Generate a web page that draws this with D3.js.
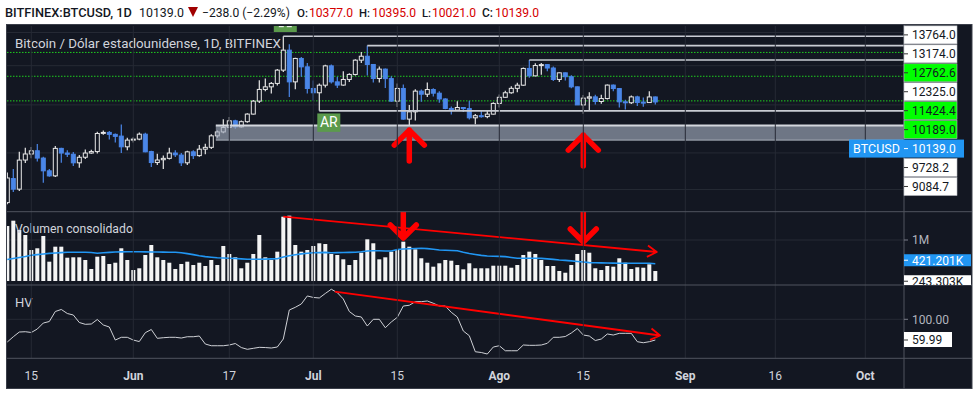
<!DOCTYPE html>
<html>
<head>
<meta charset="utf-8">
<script src="https://cdn.jsdelivr.net/npm/d3@7"></script>
<style>
  body { margin: 0; background: #fff; }
  svg text { font-family: Roboto, "Noto Sans", sans-serif; }
</style>
</head>
<body>
<svg id="chart" width="978" height="395"></svg>
<script>
// ---- data ----
const firstDay = "2019-05-11";
const lastDay = "2019-08-27";

const opens = [6350, 7100, 6760, 7740, 7960, 8080, 7810, 7361, 7190, 8170,
  7995, 7950, 7640, 7840, 7995, 8050, 8760, 8800, 8720, 8650,
  8230, 8490, 8530, 8728, 8050, 7650, 7750, 7800, 7995, 7920,
  7640, 8040, 7900, 8140, 8210, 8660, 8820, 9004, 9287, 9030,
  9250, 9582, 10177, 10745, 10876, 11050, 11754, 12899, 11131, 12410,
  11935, 10795, 10580, 10960, 11990, 11131, 10965, 11256, 11521, 12312,
  12539, 12068, 11308, 11810, 11300, 10177, 10795, 9361, 9684, 10661,
  10510, 10740, 10560, 10280, 9837, 9760, 9880, 9830, 9418, 9510,
  9470, 9580, 10069, 10360, 10580, 10800, 10960, 11847, 11446, 12008,
  12060, 11870, 11256, 11608, 11400, 10876, 9999, 10320, 10380, 10160,
  10300, 10965, 10790, 10144, 10100, 10380, 10130, 10110, 10377];
const highs = [7300, 7420, 8040, 8195, 8220, 8335, 7860, 7420, 8258, 8190,
  8100, 8030, 7920, 8130, 8120, 8830, 8880, 8860, 8760, 9131,
  8580, 8600, 8800, 8790, 8080, 7970, 7900, 8190, 8100, 8000,
  8080, 8100, 8300, 8350, 8720, 8880, 9350, 9450, 9330, 9300,
  9620, 10230, 11220, 11300, 11120, 11820, 13764, 13263, 12450, 12500,
  12150, 11200, 11050, 12050, 12070, 11400, 11700, 11590, 12370, 12785,
  13174, 12100, 11950, 11850, 11420, 11050, 11000, 9990, 10760, 10740,
  11100, 10800, 10660, 10310, 9930, 10170, 9890, 10190, 9590, 9720,
  9730, 10120, 10500, 10680, 10900, 11080, 11900, 12325, 12140, 12150,
  12080, 11950, 11630, 11620, 11480, 10890, 10470, 10600, 10480, 10480,
  10990, 11000, 10810, 10240, 10450, 10440, 10350, 10650, 10395];
const lows = [6300, 6670, 6700, 7635, 7800, 7685, 6965, 7160, 7150, 7640,
  7850, 7530, 7470, 7780, 7970, 7980, 8700, 8510, 8400, 8000,
  8100, 8400, 8480, 8020, 7490, 7560, 7420, 7760, 7850, 7530,
  7560, 7780, 7860, 7950, 8150, 8580, 8770, 8980, 8950, 9000,
  9200, 9560, 10090, 10650, 10540, 10950, 11650, 10380, 10750, 11400,
  10547, 10190, 9728.2, 10840, 11050, 10820, 10930, 11130, 11470, 12150,
  11470, 11100, 11100, 10820, 10150, 9900, 9330, 9084.7, 9300, 10150,
  10380, 10400, 10100, 9800, 9560, 9730, 9680, 9340, 9140, 9420,
  9400, 9560, 9880, 10340, 10530, 10600, 10930, 11350, 11420, 11500,
  11700, 11180, 11120, 11200, 10800, 9990, 9592, 9760, 10020, 10050,
  10250, 10660, 9880, 9790, 10040, 9950, 9920, 10100, 10021];
const closes = [7120, 6760, 7737, 7960, 8078, 7810, 7361, 7190, 8170, 7995,
  7950, 7640, 7840, 7995, 8050, 8756, 8800, 8720, 8640, 8230,
  8490, 8530, 8728, 8040, 7650, 7740, 7800, 7995, 7930, 7640,
  8040, 7900, 8140, 8210, 8660, 8820, 9004, 9287, 9030, 9250,
  9582, 10177, 10745, 10876, 11050, 11754, 12899, 11131, 12410, 11935,
  10795, 10580, 10960, 11990, 11131, 10965, 11256, 11521, 12312, 12539,
  12068, 11308, 11810, 11300, 10177, 10795, 9361, 9684, 10661, 10510,
  10740, 10560, 10280, 9837, 9760, 9880, 9830, 9418, 9510, 9470,
  9580, 10069, 10360, 10580, 10800, 10960, 11847, 11446, 12008, 12060,
  11870, 11256, 11608, 11400, 10876, 9999, 10320, 10380, 10160, 10300,
  10965, 10790, 10144, 10100, 10380, 10110, 10110, 10377, 10139];

// volume in thousands
const volumes = [1341, 1471, 1244, 1122, 756, 798, 1098, 471, 837, 837,
  568, 578, 578, 512, 293, 593, 610, 415, 446, 798,
  512, 268, 310, 634, 878, 578, 512, 446, 293, 415,
  471, 390, 446, 366, 512, 390, 854, 659, 578, 310,
  446, 659, 1122, 578, 512, 715, 1568, 1593, 878, 715,
  756, 854, 920, 902, 659, 634, 529, 390, 512, 690,
  1017, 920, 529, 578, 715, 756, 959, 837, 773, 554,
  446, 349, 432, 512, 495, 390, 285, 432, 310, 310,
  310, 373, 373, 373, 324, 390, 634, 715, 659, 512,
  366, 366, 244, 202, 390, 659, 756, 690, 310, 268,
  366, 349, 554, 446, 293, 334, 324, 407, 243.303];
const volumeMA = [524, 549, 573, 598, 627, 644, 659, 673, 683, 693,
  700, 700, 700, 700, 695, 678, 688, 698, 707, 710,
  712, 715, 712, 710, 707, 707, 705, 702, 700, 690,
  668, 644, 615, 595, 580, 568, 561, 554, 549, 539,
  529, 529, 529, 534, 539, 544, 585, 615, 639, 661,
  678, 688, 693, 698, 690, 693, 695, 698, 700, 712,
  732, 739, 737, 732, 732, 768, 780, 788, 793, 798,
  790, 773, 756, 749, 744, 739, 702, 671, 646, 624,
  610, 605, 600, 595, 573, 554, 554, 554, 554, 551,
  539, 527, 512, 502, 490, 476, 463, 449, 444, 441,
  439, 437, 434, 432, 432, 432, 432, 432, 421.201];
const hv = [56.1, 66.3, 75.4, 76.0, 74.5, 81.2, 92.8, 95.7, 115.1, 119.0,
  111.2, 108.3, 93.8, 90.3, 90.9, 99.6, 89.0, 85.1, 59.9, 65.2,
  65.2, 59.9, 57.0, 74.1, 80.3, 63.2, 64.4, 65.2, 65.2, 63.8,
  66.3, 66.3, 67.7, 52.2, 48.9, 48.9, 48.9, 50.3, 53.2, 45.4,
  42.0, 43.9, 45.8, 45.4, 44.5, 46.4, 61.9, 118.0, 123.2, 129.6,
  145.1, 142.2, 141.2, 149.9, 158.1, 151.5, 139.3, 115.1, 106.4, 104.5,
  87.0, 100.0, 100.0, 83.7, 94.8, 103.9, 125.7, 127.1, 134.1, 134.1,
  135.4, 131.0, 125.7, 125.7, 113.5, 104.5, 77.4, 68.3, 37.3, 35.8,
  32.9, 46.4, 48.9, 39.2, 39.2, 39.2, 50.3, 49.7, 49.7, 50.3,
  53.6, 65.2, 65.2, 66.7, 73.5, 82.2, 69.6, 67.7, 59.0, 61.9,
  71.6, 69.6, 72.9, 72.9, 72.9, 56.7, 54.7, 56.7, 59.99];

const timeTicks = ["2019-05-15", "2019-06-01", "2019-06-17", "2019-07-01", "2019-07-15",
  "2019-08-01", "2019-08-15", "2019-09-01", "2019-09-16", "2019-10-01"];
const timeLabels = ["15", "Jun", "17", "Jul", "15", "Ago", "15", "Sep", "16", "Oct"];

const priceGrid = [14000, 12000, 10000, 8000, 6750];
const greenLevels = [12762.6, 11424.4, 10189.0];
const rayPrices = [13764.0, 13174.0, 12325.0, 9728.2];
const rayStarts = ["2019-06-26", "2019-07-10", "2019-08-06", "2019-07-02"];
const zoneTop = 9084.7, zoneBottom = 8490, zoneStart = "2019-06-15";

const priceLabels = [13764.0, 13174.0, 12762.6, 12325.0, 11424.4, 10189.0, 10139.0, 9728.2, 9084.7];
const priceLabelKinds = ["ray", "ray", "level", "ray", "level", "level", "last", "ray", "ray"];
const volLabels = [421.201, 243.303];
const hvLast = 59.99;

const volTrendDates = ["2019-06-26T00:00:00Z", "2019-08-27T06:00:00Z"];
const volTrendValues = [1568, 707];
const hvTrendDates = ["2019-07-04T14:00:00Z", "2019-08-27T19:00:00Z"];
const hvTrendValues = [153.4, 68.7];
const upArrowDates = ["2019-07-17", "2019-08-15"];
const upArrowTips = [8894, 8690];
const downArrowDates = ["2019-07-16", "2019-08-15"];
const downArrowTips = [1049, 951];

// ---- layout ----
const W = 978, H = 395;
const left = 7, right = 904, axisEnd = 972;
const pricePane = [26, 211.7], volPane = [211.7, 285], hvPane = [285, 358.3], bottom = 388.5;
const bg = "#131722", gridC = "#262a35", sepC = "#50545f", textC = "#d1d4dc";
const upC = "#e8e8e8", downC = "#4a86e8", red = "#ff0000";

const parse = d3.utcParse("%Y-%m-%d");
const dates = d3.utcDays(parse(firstDay), d3.utcDay.offset(parse(lastDay), 1));
const bars = dates.map((d, i) => ({
  date: d, o: opens[i], h: highs[i], l: lows[i], c: closes[i],
  v: volumes[i], ma: volumeMA[i], hv: hv[i]
}));

const x = d3.scaleUtc().domain([parse("2019-05-15"), parse("2019-10-01")]).range([31.3, 865.3]);
const y = d3.scaleLog().domain([6087, 14431]).range([pricePane[1], pricePane[0]]);
const yVol = d3.scaleLinear().domain([0, 1000]).range([281, 240]);
const yHv = d3.scaleLinear().domain([59.99, 100]).range([340, 319.3]);

const svg = d3.select("#chart");
svg.append("rect").attr("width", W).attr("height", H).attr("fill", "#fff");
svg.append("rect").attr("x", 6.5).attr("y", 24.5).attr("width", axisEnd - 6.5).attr("height", bottom - 24.5)
  .attr("fill", bg).attr("stroke", "#3a3e49");

// text fitted to a width by picking the font size (no glyph squeezing)
function fitText(sel, width, size) {
  sel.attr("font-size", size);
  const len = sel.node().getComputedTextLength();
  if (len > 0) sel.attr("font-size", (size * width / len).toFixed(2));
  return sel;
}

const defs = svg.append("defs");
function clip(id, y0, y1, x1) {
  defs.append("clipPath").attr("id", id).append("rect")
    .attr("x", left).attr("y", y0).attr("width", (x1 || right) - left).attr("height", y1 - y0);
  return "url(#" + id + ")";
}
const gPrice = svg.append("g").attr("clip-path", clip("cp", pricePane[0], pricePane[1]));
const gVol = svg.append("g").attr("clip-path", clip("cv", volPane[0], volPane[1]));
const gHv = svg.append("g").attr("clip-path", clip("ch", hvPane[0], hvPane[1]));

// grid
timeTicks.forEach(t => {
  svg.append("line").attr("x1", x(parse(t))).attr("x2", x(parse(t)))
    .attr("y1", pricePane[0]).attr("y2", hvPane[1]).attr("stroke", gridC);
});
gPrice.selectAll("line.hg").data(priceGrid).enter().append("line")
  .attr("x1", left).attr("x2", right).attr("y1", d => y(d)).attr("y2", d => y(d)).attr("stroke", gridC);
gVol.append("line").attr("x1", left).attr("x2", right).attr("y1", yVol(1000)).attr("y2", yVol(1000)).attr("stroke", gridC);
gHv.append("line").attr("x1", left).attr("x2", right).attr("y1", yHv(100)).attr("y2", yHv(100)).attr("stroke", gridC);

// green dotted levels
gPrice.selectAll("line.green").data(greenLevels).enter().append("line")
  .attr("x1", left).attr("x2", right).attr("y1", d => y(d)).attr("y2", d => y(d))
  .attr("stroke", "#1fcf1f").attr("stroke-width", 1).attr("stroke-dasharray", "1.5,1.5");

// label box above the climax candle (mostly hidden behind the header)
gPrice.append("rect").attr("x", x(parse("2019-06-26")) - 9.5).attr("y", 13).attr("width", 23).attr("height", 19)
  .attr("fill", "#5b9a4c");
gPrice.selectAll("rect.dash").data([-4, 4]).enter().append("rect")
  .attr("x", d => x(parse("2019-06-26")) + 2 + d - 2.5).attr("y", 26).attr("width", 5).attr("height", 1.2)
  .attr("fill", "#e8efe6");

// candles
const cw = 4;
const candle = gPrice.selectAll("g.c").data(bars).enter().append("g");
candle.append("line")
  .attr("x1", d => x(d.date)).attr("x2", d => x(d.date))
  .attr("y1", d => y(d.h)).attr("y2", d => y(d.l))
  .attr("stroke", d => d.c >= d.o ? upC : downC).attr("stroke-width", 1.2);
candle.append("rect")
  .attr("x", d => x(d.date) - cw / 2)
  .attr("width", cw)
  .attr("y", d => y(Math.max(d.o, d.c)))
  .attr("height", d => Math.max(1, Math.abs(y(d.o) - y(d.c))))
  .attr("fill", d => d.c >= d.o ? bg : downC)
  .attr("stroke", d => d.c >= d.o ? upC : downC)
  .attr("stroke-width", 1);

// rays from swing points
rayPrices.forEach((p, i) => {
  gPrice.append("line").attr("x1", x(parse(rayStarts[i]))).attr("x2", right)
    .attr("y1", y(p)).attr("y2", y(p)).attr("stroke", "#c9ccd3").attr("stroke-width", 1.6);
});

// support zone
const zx = x(parse(zoneStart)) - 1.5;
gPrice.append("rect").attr("x", zx).attr("y", y(zoneTop)).attr("width", right - zx)
  .attr("height", y(zoneBottom) - y(zoneTop)).attr("fill", "rgba(159,169,188,0.65)");
gPrice.append("line").attr("x1", zx).attr("x2", right).attr("y1", y(zoneTop)).attr("y2", y(zoneTop))
  .attr("stroke", "#d4d7de").attr("stroke-width", 2);
gPrice.append("line").attr("x1", zx).attr("x2", right).attr("y1", y(zoneBottom)).attr("y2", y(zoneBottom))
  .attr("stroke", "#a9afba").attr("stroke-width", 1);

// AR label
const arX = x(parse("2019-07-02")) - 2;
gPrice.append("rect").attr("x", arX).attr("y", y(9728.2) + 2.6).attr("width", 23).attr("height", 18.4).attr("fill", "#5b9a4c");
gPrice.append("text").attr("x", arX + 11.5).attr("y", y(9728.2) + 16.6).attr("text-anchor", "middle")
  .attr("fill", "#fff").attr("font-size", 14).text("AR");

// up arrows
upArrowDates.forEach((d, i) => {
  const ax = x(parse(d)), ay = y(upArrowTips[i]);
  gPrice.append("path")
    .attr("d", `M${ax - 15},${ay + 15}L${ax},${ay}L${ax + 15},${ay + 15}M${ax},${ay}L${ax},${ay + 31}`)
    .attr("fill", "none").attr("stroke", red).attr("stroke-width", 5.5)
    .attr("stroke-linecap", "round").attr("stroke-linejoin", "round");
});

fitText(gPrice.append("text").attr("x", 15).attr("y", 48).attr("fill", textC)
  .text("Bitcoin / Dólar estadounidense, 1D, BITFINEX"), 266, 13);

// volume
gVol.selectAll("rect.v").data(bars).enter().append("rect")
  .attr("x", d => x(d.date) - 2).attr("width", 4)
  .attr("y", d => yVol(d.v)).attr("height", d => yVol(0) - yVol(d.v))
  .attr("fill", "#f4f4f4");
gVol.append("path").datum(bars)
  .attr("d", d3.line().x(d => x(d.date)).y(d => yVol(d.ma)))
  .attr("fill", "none").attr("stroke", "#2196f3").attr("stroke-width", 1.6);
fitText(gVol.append("text").attr("x", 15).attr("y", 233).attr("fill", textC).text("Volumen consolidado"), 118, 13);

function trend(g, ds, vs, sy) {
  const x0 = x(d3.isoParse(ds[0])), y0 = sy(vs[0]), x1 = x(d3.isoParse(ds[1])), y1 = sy(vs[1]);
  const a = Math.atan2(y1 - y0, x1 - x0), L = 11, s = 0.55;
  g.append("path")
    .attr("d", `M${x0},${y0}L${x1},${y1}M${x1 - L * Math.cos(a - s)},${y1 - L * Math.sin(a - s)}L${x1},${y1}L${x1 - L * Math.cos(a + s)},${y1 - L * Math.sin(a + s)}`)
    .attr("fill", "none").attr("stroke", red).attr("stroke-width", 1.8).attr("stroke-linejoin", "round");
}
trend(gVol, volTrendDates, volTrendValues, yVol);

downArrowDates.forEach((d, i) => {
  const ax = x(parse(d)), ay = yVol(downArrowTips[i]);
  gVol.append("path")
    .attr("d", `M${ax - 13},${ay - 13}L${ax},${ay}L${ax + 13},${ay - 13}M${ax},${ay}L${ax},${volPane[0] - 5}`)
    .attr("fill", "none").attr("stroke", red).attr("stroke-width", 5.5)
    .attr("stroke-linecap", "round").attr("stroke-linejoin", "round");
});

// HV
gHv.append("path").datum(bars)
  .attr("d", d3.line().x(d => x(d.date)).y(d => yHv(d.hv)))
  .attr("fill", "none").attr("stroke", "#cfd1d6").attr("stroke-width", 1);
trend(gHv, hvTrendDates, hvTrendValues, yHv);
gHv.append("text").attr("x", 15).attr("y", 307).attr("fill", textC).attr("font-size", 13).text("HV");

// separators and right axis line
[volPane[0], hvPane[0], hvPane[1]].forEach(s => {
  svg.append("line").attr("x1", left).attr("x2", axisEnd).attr("y1", s).attr("y2", s).attr("stroke", sepC);
});
svg.append("line").attr("x1", right).attr("x2", right).attr("y1", 25).attr("y2", bottom).attr("stroke", sepC);

// time axis
timeTicks.forEach((t, i) => {
  const month = isNaN(+timeLabels[i]);
  svg.append("text").attr("x", x(parse(t))).attr("y", 379.5).attr("text-anchor", "middle")
    .attr("fill", textC).attr("font-size", 12).attr("font-weight", month ? 700 : 400)
    .text(timeLabels[i]);
});

// price axis labels (stacked to avoid overlap)
function stack(ideal, gap, shift) {
  const out = [];
  ideal.forEach((v, i) => out.push(i ? Math.max(v, out[i - 1] + gap) : v));
  return out.map(v => v + shift);
}
const fmt = d3.format(".1f");
const py = stack(priceLabels.map(y), 18.95, -1.3);
const kindFill = {ray: "#ffffff", level: "#00ff00", last: "#2196f3"};
priceLabels.forEach((p, i) => {
  const k = priceLabelKinds[i], cy = py[i];
  svg.append("rect").attr("x", right).attr("y", cy - 9).attr("width", k === "last" ? 60 : 53).attr("height", 18)
    .attr("fill", kindFill[k]).attr("stroke", k === "last" ? "none" : "#b9bcc3").attr("stroke-width", 0.6);
  svg.append("line").attr("x1", right).attr("x2", right + 4).attr("y1", cy).attr("y2", cy)
    .attr("stroke", k === "last" ? "#fff" : "#333");
  svg.append("text").attr("x", right + 8).attr("y", cy + 4.3).attr("font-size", 12)
    .attr("fill", k === "last" ? "#fff" : "#131722").text(fmt(p));
  if (k === "last") {
    svg.append("rect").attr("x", 849).attr("y", cy - 9).attr("width", right - 849).attr("height", 18).attr("fill", "#2196f3");
    svg.append("text").attr("x", 876.5).attr("y", cy + 4.5).attr("text-anchor", "middle").attr("font-size", 12.5)
      .attr("fill", "#fff").text("BTCUSD");
  }
});

// volume axis
svg.append("line").attr("x1", right).attr("x2", right + 4).attr("y1", yVol(1000)).attr("y2", yVol(1000)).attr("stroke", "#787b86");
svg.append("text").attr("x", right + 8).attr("y", yVol(1000) + 4.3).attr("font-size", 12).attr("fill", "#b2b5be").text("1M");
const gVolAxis = svg.append("g").attr("clip-path", clip("cva", volPane[0], volPane[1], axisEnd));
const vy = stack(volLabels.map(yVol), 21, -3.5);
volLabels.forEach((v, i) => {
  const blue = i === 0;
  gVolAxis.append("rect").attr("x", right).attr("y", vy[i] - 6).attr("width", 67).attr("height", 12)
    .attr("fill", blue ? "#2196f3" : "#fff");
  gVolAxis.append("line").attr("x1", right).attr("x2", right + 4).attr("y1", vy[i]).attr("y2", vy[i])
    .attr("stroke", blue ? "#fff" : "#333");
  gVolAxis.append("text").attr("x", right + 8).attr("y", vy[i] + 4.3).attr("font-size", 12)
    .attr("fill", blue ? "#fff" : "#131722").text(d3.format(".3f")(v) + "K");
});

// HV axis
svg.append("line").attr("x1", right).attr("x2", right + 4).attr("y1", yHv(100)).attr("y2", yHv(100)).attr("stroke", "#787b86");
svg.append("text").attr("x", right + 8).attr("y", yHv(100) + 4.3).attr("font-size", 12).attr("fill", "#b2b5be").text("100.00");
svg.append("rect").attr("x", right).attr("y", yHv(hvLast) - 8).attr("width", 48).attr("height", 15).attr("fill", "#fff");
svg.append("line").attr("x1", right).attr("x2", right + 4).attr("y1", yHv(hvLast)).attr("y2", yHv(hvLast)).attr("stroke", "#333");
svg.append("text").attr("x", right + 8).attr("y", yHv(hvLast) + 4.3).attr("font-size", 12).attr("fill", "#131722").text(d3.format(".2f")(hvLast));

// header
const header = [
  ["BITFINEX:BTCUSD, 1D", 5, 127, "#131722", 500],
  ["10139.0", 139, 45, "#131722", 400],
  ["−238.0 (−2.29%)", 202, 88, "#131722", 400],
  ["O:", 297, 11, "#131722", 500], ["10377.0", 309, 44, "#d50000", 400],
  ["H:", 359, 11, "#131722", 500], ["10395.0", 372, 44, "#d50000", 400],
  ["L:", 422, 9, "#131722", 500], ["10021.0", 432, 44, "#d50000", 400],
  ["C:", 482, 11, "#131722", 500], ["10139.0", 495, 44, "#d50000", 400]
];
header.forEach(h => {
  fitText(svg.append("text").attr("x", h[1]).attr("y", 16.7).attr("fill", h[3])
    .attr("font-weight", h[4]).text(h[0]), h[2], 14);
});
svg.append("path").attr("d", "M188,7L198,7L193,17Z").attr("fill", "#a00000");
</script>
</body>
</html>
